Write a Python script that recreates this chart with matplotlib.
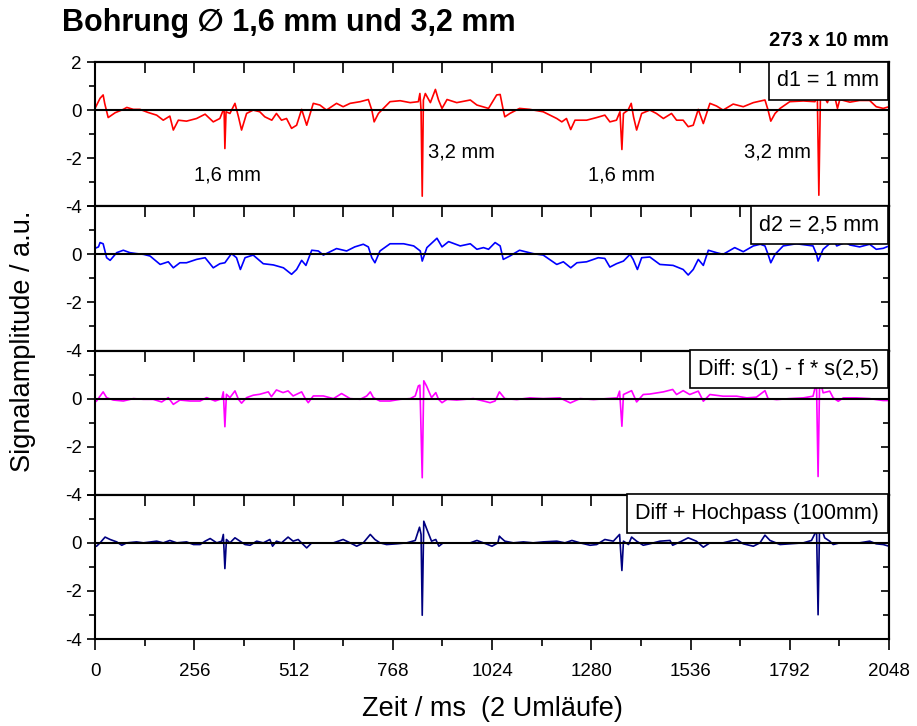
import matplotlib.pyplot as plt
from matplotlib.ticker import MultipleLocator

plt.rcParams['font.family'] = ['Liberation Sans', 'DejaVu Sans']

# Zeitachse (ms) und Signalwerte
t_d1 = [0, 13, 21, 25, 34, 52, 73, 82, 99, 116, 137, 159, 176, 193, 202, 215, 236, 262, 284, 305,
        322, 329, 333, 335, 338, 348, 361, 370, 378, 391, 408, 425, 438, 456, 468, 481, 494, 507, 520, 533,
        546, 563, 580, 597, 623, 640, 658, 684, 705, 714, 720, 731, 744, 761, 787, 813, 834, 838, 841, 844,
        847, 852, 865, 878, 886, 895, 908, 933, 968, 985, 1015, 1036,
        1045, 1053, 1057, 1070, 1095, 1121, 1156, 1191, 1204, 1216, 1227, 1238, 1268, 1294, 1315, 1328, 1345, 1354,
        1359, 1363, 1375, 1383, 1389, 1397, 1410, 1431, 1448, 1466, 1487, 1500, 1517, 1530, 1543, 1556, 1569, 1586,
        1603, 1620, 1646, 1672, 1698, 1728, 1736, 1743, 1754, 1767, 1792, 1827, 1857, 1863, 1867, 1871, 1876, 1889,
        1902, 1910, 1915, 1921, 1947, 1972, 1998, 2015, 2033, 2048]
s_d1 = [0.07, 0.49, 0.63, 0.28, -0.31, -0.11, 0.03, 0.11, 0.03, 0.03, -0.10, -0.21, -0.42, -0.25, -0.83, -0.42, -0.46, -0.35, -0.17, -0.49,
        -0.35, -0.07, 0.0, -1.60, -0.07, -0.14, 0.28, -0.28, -0.83, -0.14, 0.0, -0.07, -0.28, -0.42, -0.14, -0.42, -0.35, -0.76, -0.63, 0.03,
        -0.63, 0.28, 0.21, 0.0, 0.28, 0.14, 0.28, 0.35, 0.44, 0.0, -0.49, -0.14, 0.07, 0.35, 0.39, 0.31, 0.35, 0.69, 0.0, -3.58,
        0.42, 0.69, 0.31, 0.86, 0.42, 0.07, 0.44, 0.31, 0.42, 0.21, 0.07, 0.63,
        0.65, 0.0, -0.28, -0.14, 0.07, 0.03, -0.07, -0.35, -0.49, -0.35, -0.81, -0.42, -0.42, -0.31, -0.21, -0.49, -0.42, -0.07,
        -1.64, -0.14, 0.0, 0.28, -0.28, -0.83, -0.14, 0.0, -0.14, -0.35, -0.14, -0.42, -0.42, -0.69, -0.63, 0.03, -0.56, 0.28,
        0.17, 0.0, 0.25, 0.14, 0.31, 0.42, 0.0, -0.46, -0.14, 0.07, 0.35, 0.38, 0.35, 0.69, -3.54, 0.55, 0.69, 0.31,
        0.86, 0.42, 0.07, 0.44, 0.33, 0.40, 0.40, 0.14, 0.07, 0.14]

t_d2 = [0, 9, 13, 21, 30, 39, 56, 73, 90, 107, 125, 142, 168, 189, 202, 219, 236, 262, 284, 305,
        322, 335, 352, 365, 375, 387, 400, 408, 434, 460, 486, 507, 520, 533, 544, 559, 576, 589, 623, 649,
        670, 692, 705, 714, 722, 735, 761, 796, 822, 839, 844, 856, 882, 895, 912, 942, 968, 985, 1002, 1015, 1032,
        1045, 1053, 1070, 1095, 1130, 1156, 1191, 1208, 1227, 1243, 1268, 1298, 1315, 1328, 1345, 1363, 1380, 1388,
        1399, 1410, 1431, 1457, 1491, 1517, 1530, 1543, 1556, 1569, 1582, 1603, 1620, 1650, 1672, 1698, 1716, 1728,
        1736, 1743, 1754, 1775, 1809, 1852, 1861, 1865, 1878, 1906, 1913, 1936, 1947, 1972, 1998, 2015, 2033, 2048]
s_d2 = [0.25, 0.31, 0.49, 0.44, -0.14, -0.25, 0.07, 0.17, 0.07, 0.03, 0.0, -0.07, -0.42, -0.31, -0.56, -0.35, -0.35, -0.21, -0.14, -0.56,
        -0.39, -0.35, 0.03, -0.14, -0.63, -0.14, -0.07, -0.03, -0.39, -0.44, -0.56, -0.83, -0.63, -0.25, -0.46, 0.17, 0.14, -0.03, 0.24, 0.14,
        0.31, 0.42, 0.31, -0.14, -0.35, 0.14, 0.44, 0.44, 0.35, 0.14, -0.28, 0.28, 0.67, 0.31, 0.53, 0.35, 0.44, 0.21, 0.28, 0.21, 0.49,
        0.35, -0.21, -0.07, 0.17, 0.03, -0.03, -0.42, -0.31, -0.56, -0.35, -0.31, -0.14, -0.17, -0.53, -0.39, -0.28, 0.0, -0.21,
        -0.63, -0.14, -0.11, -0.42, -0.46, -0.63, -0.86, -0.63, -0.21, -0.46, 0.17, 0.07, 0.0, 0.28, 0.11, 0.35, 0.42, 0.35,
        0.0, -0.35, 0.0, 0.35, 0.44, 0.35, 0.0, -0.28, 0.21, 0.60, 0.35, 0.50, 0.39, 0.31, 0.42, 0.21, 0.25, 0.35]

t_diff = [0, 4, 21, 30, 47, 73, 99, 125, 150, 172, 189, 202, 219, 245, 271, 288, 310, 327, 331, 335,
          339, 348, 361, 370, 378, 391, 408, 425, 447, 455, 468, 485, 498, 511, 520, 533, 541, 550, 563, 589,
          615, 636, 658, 684, 701, 710, 718, 735, 761, 787, 813, 826, 834, 838, 844, 848, 855, 868, 879, 886,
          895, 908, 933, 976, 1002, 1019, 1032, 1043,
          1057, 1088, 1122, 1156, 1199, 1226, 1251, 1286, 1321, 1347, 1353, 1359, 1363, 1384, 1397, 1414, 1431, 1466,
          1490, 1500, 1517, 1534, 1556, 1569, 1586, 1620, 1655, 1681, 1706, 1728, 1736, 1758, 1792, 1827, 1852, 1858,
          1861, 1865, 1869, 1875, 1878, 1895, 1904, 1917, 1930, 1964, 1998, 2015, 2033, 2048]
s_diff = [-0.14, -0.10, 0.28, 0.04, -0.06, -0.10, 0.0, -0.03, -0.03, -0.14, 0.04, -0.24, -0.06, -0.10, -0.10, 0.04, -0.10, 0.0, 0.28, -1.17,
          0.18, 0.04, 0.32, -0.03, -0.19, 0.04, 0.14, 0.18, 0.28, 0.08, 0.36, 0.25, 0.32, 0.11, 0.18, 0.28, 0.04, -0.17, 0.11, 0.11,
          0.0, 0.21, 0.0, -0.03, 0.11, 0.28, 0.04, -0.10, -0.10, -0.03, 0.0, 0.11, 0.53, 0.56, -3.29, 0.74, 0.53, 0.04, 0.25, -0.03,
          -0.17, -0.03, -0.06, 0.0, -0.10, -0.17, -0.10, 0.28,
          0.0, -0.04, 0.03, 0.0, 0.03, -0.18, 0.0, -0.04, 0.0, 0.03, 0.31, -1.15, 0.17, 0.33, -0.14, 0.17, 0.19, 0.28,
          0.38, 0.17, 0.33, 0.17, 0.31, -0.11, 0.17, 0.10, 0.10, 0.03, 0.06, 0.33, 0.0, -0.04, 0.0, 0.03, 0.10, 0.50,
          0.55, -3.24, 0.74, 0.45, 0.24, 0.31, 0.03, -0.11, 0.03, 0.03, 0.0, -0.04, -0.08, -0.08]

t_hp = [0, 4, 13, 26, 39, 56, 69, 82, 107, 125, 159, 176, 193, 211, 236, 254, 271, 284, 297, 314,
        327, 331, 335, 339, 348, 361, 374, 387, 400, 417, 434, 451, 458, 468, 481, 498, 511, 524, 537, 546,
        559, 589, 615, 640, 658, 675, 692, 710, 722, 735, 752, 778, 804, 826, 837, 841, 844, 848, 856, 868,
        879, 887, 898, 933, 968, 985, 1002, 1024, 1039, 1043,
        1045, 1057, 1079, 1105, 1130, 1156, 1191, 1212, 1230, 1251, 1277, 1294, 1315, 1337, 1353, 1359, 1363, 1376,
        1384, 1397, 1414, 1431, 1457, 1483, 1490, 1513, 1530, 1551, 1569, 1586, 1620, 1655, 1672, 1698, 1715, 1728,
        1741, 1767, 1792, 1827, 1848, 1858, 1861, 1865, 1869, 1876, 1882, 1895, 1904, 1921, 1947, 1972, 1998, 2015,
        2033, 2048]
s_hp = [-0.14, -0.14, 0.0, 0.24, 0.14, 0.04, -0.10, 0.0, 0.04, 0.0, 0.07, 0.0, 0.10, 0.0, 0.04, -0.07, -0.07, 0.07, 0.18, 0.0,
        0.07, 0.35, -1.07, 0.14, 0.0, 0.21, 0.07, -0.07, -0.10, 0.07, 0.0, 0.14, -0.14, 0.07, 0.0, 0.24, 0.07, 0.14, -0.07, -0.21,
        0.0, 0.0, 0.0, 0.14, 0.0, -0.14, 0.0, 0.35, 0.14, 0.0, -0.07, -0.04, 0.0, 0.10, 0.65, 0.35, -3.01, 0.90, 0.56, 0.07,
        0.14, -0.14, 0.0, 0.0, 0.0, 0.10, 0.0, -0.14, 0.0, 0.28,
        0.24, 0.07, 0.0, 0.04, 0.0, 0.04, 0.07, 0.0, 0.10, 0.0, -0.10, -0.07, 0.14, 0.07, 0.35, -1.15, 0.07, -0.07,
        0.24, 0.07, -0.10, -0.04, 0.07, 0.10, -0.10, 0.07, 0.21, 0.07, -0.18, 0.0, 0.0, 0.14, -0.04, -0.14, 0.0, 0.32,
        0.10, -0.07, -0.04, 0.0, 0.10, 0.42, 0.60, -2.99, 0.85, 0.50, 0.21, 0.07, -0.07, 0.0, 0.0, 0.0, 0.07, -0.04,
        -0.07, -0.14]

labels = ['d1 = 1 mm', 'd2 = 2,5 mm', 'Diff: s(1) - f * s(2,5)', 'Diff + Hochpass (100mm)']
colors = ['#ff0000', '#0000ff', '#ff00ff', '#000080']
series = [(t_d1, s_d1), (t_d2, s_d2), (t_diff, s_diff), (t_hp, s_hp)]

x_ticks = [0, 256, 512, 768, 1024, 1280, 1536, 1792, 2048]

fig, axes = plt.subplots(4, 1, sharex=True, figsize=(9.17, 7.26), dpi=100)
fig.subplots_adjust(left=0.1036, right=0.9695, top=0.9146, bottom=0.1198, hspace=0)

for i, ax in enumerate(axes):
    t, s = series[i]
    ax.plot(t, s, color=colors[i], lw=1.2, zorder=2)
    ax.axhline(0, color='black', lw=1.5, zorder=3)
    ax.set_xlim(0, 2048)
    ax.set_ylim(-4, 2)
    ax.set_yticks([-4, -2, 0, 2])
    if i == 0:
        ax.set_yticklabels(['-4', '-2', '0', '2'])
    else:
        ax.set_yticklabels(['-4', '-2', '0', ''])
    ax.yaxis.set_minor_locator(MultipleLocator(1))
    ax.set_xticks(x_ticks)
    ax.xaxis.set_minor_locator(MultipleLocator(128))
    for sp in ax.spines.values():
        sp.set_linewidth(1.5)
    ax.tick_params(axis='y', which='major', direction='out', length=6, width=1.2, labelsize=13.5, right=False)
    ax.tick_params(axis='y', which='minor', direction='out', length=4, width=1.2, right=False)
    last = i == 3
    ax.tick_params(axis='x', which='major', direction='out', length=8, width=1.2, labelsize=13.5,
                   top=False, bottom=last, labelbottom=last, pad=9)
    ax.tick_params(axis='x', which='minor', direction='out', length=5, width=1.2, top=False, bottom=last)

    # Ticks innen oben und rechts
    top = ax.secondary_xaxis('top')
    top.set_xticks(x_ticks)
    top.xaxis.set_minor_locator(MultipleLocator(128))
    top.tick_params(which='both', direction='in', length=8, width=1.2, labeltop=False)
    top.spines['top'].set_linewidth(1.5)
    right = ax.secondary_yaxis('right')
    right.set_yticks([-4, -2, 0, 2])
    right.yaxis.set_minor_locator(MultipleLocator(1))
    right.tick_params(which='major', direction='in', length=6, width=1.2, labelright=False)
    right.tick_params(which='minor', direction='in', length=4, width=1.2)
    right.spines['right'].set_linewidth(1.5)

    ax.annotate(labels[i], xy=(1, 1), xycoords='axes fraction', xytext=(-7, -6),
                textcoords='offset points', ha='right', va='top', fontsize=15.5, zorder=6,
                bbox=dict(boxstyle='square,pad=0.4', fc='white', ec='black', lw=1.2))

ax1 = axes[0]
ax1.text(343, -2.7, '1,6 mm', ha='center', va='center', fontsize=14.5)
ax1.text(859, -1.75, '3,2 mm', ha='left', va='center', fontsize=14.5)
ax1.text(1359, -2.7, '1,6 mm', ha='center', va='center', fontsize=14.5)
ax1.text(1674, -1.75, '3,2 mm', ha='left', va='center', fontsize=14.5)

fig.text(62 / 917, 1 - 23 / 726, 'Bohrung \u2205 1,6 mm und 3,2 mm', ha='left', va='center',
         fontsize=22, fontweight='bold')
fig.text(889 / 917, 1 - 40 / 726, '273 x 10 mm', ha='right', va='center', fontsize=14.5, fontweight='bold')
fig.text(23 / 917, 1 - 341 / 726, 'Signalamplitude / a.u.', rotation=90, ha='center', va='center', fontsize=19.5)
axes[3].set_xlabel('Zeit / ms  (2 Umläufe)', fontsize=19.5, labelpad=12)

fig.savefig('out.png', dpi=100)
